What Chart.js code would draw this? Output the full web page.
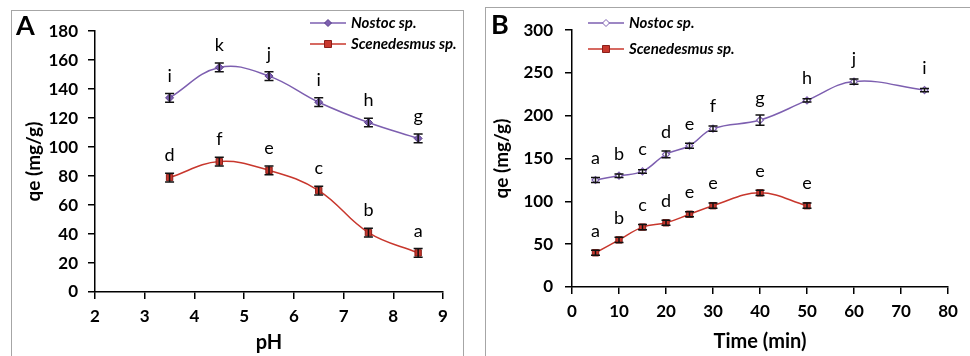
<!DOCTYPE html>
<html>
<head>
<meta charset="utf-8">
<script src="https://cdn.jsdelivr.net/npm/chart.js@4.4.1/dist/chart.umd.min.js"></script>
<style>
  body { margin: 0; background: #fff; width: 970px; height: 356px; overflow: hidden; position: relative; }
  .panel { position: absolute; border: 1px solid #a6a6a6; box-sizing: border-box; }
  #panelA { left: 11px; top: 10px; width: 453px; height: 360px; }
  #panelB { left: 485px; top: 7px; width: 500px; height: 360px; }
  canvas { position: absolute; }
  #chartA { left: 12px; top: 11px; }
  #chartB { left: 486px; top: 8px; }
</style>
</head>
<body>
<div class="panel" id="panelA"></div>
<div class="panel" id="panelB"></div>
<canvas id="chartA" width="450" height="345"></canvas>
<canvas id="chartB" width="484" height="348"></canvas>
<script>
// --- panel A: effect of pH ---
const phValues = [3.5, 4.5, 5.5, 6.5, 7.5, 8.5];
const phNostoc = [134, 155, 149, 131, 117, 106];
const phNostocErr = [3, 3, 3, 3, 3, 3];
const phNostocLetters = ["i", "k", "j", "i", "h", "g"];
const phScen = [79, 90, 84, 70, 41, 27];
const phScenErr = [3, 3, 3, 3, 3, 3];
const phScenLetters = ["d", "f", "e", "c", "b", "a"];

// --- panel B: contact time ---
const timeNostoc = [5, 10, 15, 20, 25, 30, 40, 50, 60, 75];
const timeNostocQe = [125, 130, 135, 155, 165, 185, 195, 218, 240, 230];
const timeNostocErr = [3, 2, 2, 4, 3, 3, 6, 2, 3, 2];
const timeNostocLetters = ["a", "b", "c", "d", "e", "f", "g", "h", "j", "i"];
const timeScen = [5, 10, 15, 20, 25, 30, 40, 50];
const timeScenQe = [40, 55, 70, 75, 85, 95, 110, 95];
const timeScenErr = [3, 3, 3, 3, 3, 3, 3, 3];
const timeScenLetters = ["a", "b", "c", "d", "e", "e", "e", "e"];

const PURPLE = "#7d5fb0";
const RED = "#c8372d";
const FONT = "Lato, 'Open Sans', sans-serif";

const pts = (xs, ys) => xs.map((x, i) => ({ x: x, y: ys[i] }));

// error bars + letters over each point, panel letter and legend
const marksPlugin = {
  id: "marks",
  afterDatasetsDraw(chart) {
    const ctx = chart.ctx;
    const xs = chart.scales.x, ys = chart.scales.y;
    chart.data.datasets.forEach(ds => {
      ctx.save();
      ds.data.forEach((p, i) => {
        const x = xs.getPixelForValue(p.x);
        const yHi = ys.getPixelForValue(p.y + ds.errors[i]);
        const yLo = ys.getPixelForValue(p.y - ds.errors[i]);
        ctx.strokeStyle = "#111";
        ctx.lineWidth = 1.5;
        ctx.beginPath();
        ctx.moveTo(x, yHi); ctx.lineTo(x, yLo);
        ctx.moveTo(x - 4.5, yHi); ctx.lineTo(x + 4.5, yHi);
        ctx.moveTo(x - 4.5, yLo); ctx.lineTo(x + 4.5, yLo);
        ctx.stroke();
        ctx.fillStyle = "#000";
        ctx.font = "18px " + FONT;
        ctx.textAlign = "center";
        ctx.textBaseline = "middle";
        ctx.fillText(ds.letters[i], x, ys.getPixelForValue(p.y) - 22);
      });
      ctx.restore();
    });
  },
  afterDraw(chart, args, opts) {
    const ctx = chart.ctx;
    ctx.save();
    ctx.fillStyle = "#000";
    ctx.font = "bold 27px " + FONT;
    ctx.textAlign = "left";
    ctx.textBaseline = "alphabetic";
    ctx.fillText(opts.letter, opts.letterX, opts.letterY);
    chart.data.datasets.forEach((ds, i) => {
      const y = opts.legY + i * opts.legGap;
      const x0 = opts.legX, x1 = opts.legX + 36, xm = (x0 + x1) / 2;
      ctx.strokeStyle = ds.borderColor;
      ctx.lineWidth = 1.5;
      ctx.beginPath(); ctx.moveTo(x0, y); ctx.lineTo(x1, y); ctx.stroke();
      ctx.fillStyle = ds.pointBackgroundColor;
      ctx.strokeStyle = ds.pointBorderColor;
      ctx.lineWidth = 1;
      ctx.beginPath();
      if (ds.pointStyle === "rect") {
        ctx.rect(xm - 3.5, y - 3.5, 7, 7);
      } else {
        ctx.moveTo(xm, y - 3.5); ctx.lineTo(xm + 3.5, y); ctx.lineTo(xm, y + 3.5); ctx.lineTo(xm - 3.5, y); ctx.closePath();
      }
      ctx.fill(); ctx.stroke();
      ctx.fillStyle = "#000";
      ctx.font = "italic bold 15px " + FONT;
      ctx.textBaseline = "middle";
      ctx.fillText(ds.label, x1 + 5, y);
    });
    ctx.restore();
  }
};

function axisCommon(min, max, step, titleText, titleSize, tickPad, titlePad) {
  return {
    type: "linear", min: min, max: max,
    ticks: { stepSize: step, color: "#000", padding: tickPad, font: { family: FONT, size: 17, weight: "bold" } },
    grid: { drawOnChartArea: false, tickLength: 7, color: "#000", lineWidth: 1.5 },
    border: { color: "#000", width: 1.5 },
    title: { display: true, text: titleText, color: "#000", padding: titlePad, font: { family: FONT, size: titleSize, weight: "bold" } }
  };
}

function makeChart(id, datasets, xAxis, yAxis, pad, yWidth, xHeight, marks) {
  yAxis.afterFit = s => { s.width = yWidth; };
  xAxis.afterFit = s => { s.height = xHeight; };
  return new Chart(document.getElementById(id), {
    type: "line",
    data: { datasets: datasets },
    options: {
      responsive: false,
      animation: false,
      devicePixelRatio: 1,
      layout: { padding: pad },
      plugins: { legend: { display: false }, tooltip: { enabled: false }, marks: marks },
      scales: { x: xAxis, y: yAxis }
    },
    plugins: [marksPlugin]
  });
}

makeChart("chartA", [
  {
    label: "Nostoc sp.", data: pts(phValues, phNostoc), errors: phNostocErr, letters: phNostocLetters,
    borderColor: PURPLE, borderWidth: 1.5, tension: 0.4,
    pointStyle: "rectRot", pointRadius: 4, pointBackgroundColor: PURPLE, pointBorderColor: "#5a3f8a", pointBorderWidth: 1
  },
  {
    label: "Scenedesmus sp.", data: pts(phValues, phScen), errors: phScenErr, letters: phScenLetters,
    borderColor: RED, borderWidth: 1.5, tension: 0.4,
    pointStyle: "rect", pointRadius: 4.5, pointBackgroundColor: RED, pointBorderColor: "#8a1f1a", pointBorderWidth: 1
  }
],
  axisCommon(2, 9, 1, "pH", 20, 7, { top: 2, bottom: 1 }),
  axisCommon(0, 180, 20, "qe (mg/g)", 19, 10, { top: 10, bottom: 0 }),
  { top: 13, right: 19, left: 0, bottom: 0 }, 83, 64,
  { letter: "A", letterX: 4, letterY: 24, legX: 298, legY: 12, legGap: 21 });

makeChart("chartB", [
  {
    label: "Nostoc sp.", data: pts(timeNostoc, timeNostocQe), errors: timeNostocErr, letters: timeNostocLetters,
    borderColor: PURPLE, borderWidth: 1.5, tension: 0.4,
    pointStyle: "rectRot", pointRadius: 3.5, pointBackgroundColor: "#ffffff", pointBorderColor: PURPLE, pointBorderWidth: 1.2
  },
  {
    label: "Scenedesmus sp.", data: pts(timeScen, timeScenQe), errors: timeScenErr, letters: timeScenLetters,
    borderColor: RED, borderWidth: 1.5, tension: 0.4,
    pointStyle: "rect", pointRadius: 4.5, pointBackgroundColor: RED, pointBorderColor: "#8a1f1a", pointBorderWidth: 1
  }
],
  axisCommon(0, 80, 10, "Time (min)", 20, 7, { top: 2, bottom: 2 }),
  axisCommon(0, 300, 50, "qe (mg/g)", 19, 12, { top: 4, bottom: 0 }),
  { top: 15, right: 22, left: 0, bottom: 0 }, 86, 69,
  { letter: "B", letterX: 5, letterY: 26, legX: 102, legY: 15, legGap: 26 });
</script>
</body>
</html>
